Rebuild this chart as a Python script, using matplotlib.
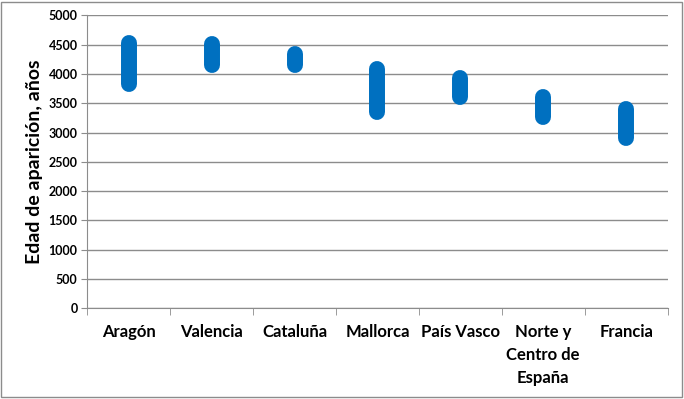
import numpy as np
import matplotlib.pyplot as plt
from matplotlib.patches import Rectangle

plt.rcParams['font.family'] = ['Lato', 'DejaVu Sans']

# categories and age ranges (years)
regiones = ['Aragón', 'Valencia', 'Cataluña', 'Mallorca', 'País Vasco',
            'Norte y\nCentro de\nEspaña', 'Francia']
edad_max = [4530, 4510, 4340, 4080, 3930, 3600, 3410]
edad_min = [3835, 4160, 4160, 3345, 3600, 3275, 2905]

fig = plt.figure(figsize=(6.84, 3.99), dpi=100)
ax = fig.add_axes([0.1277, 0.2273, 0.976 - 0.1277, 0.9612 - 0.2273])

x = np.arange(len(regiones))
for xi, lo, hi in zip(x, edad_min, edad_max):
    ax.plot([xi, xi], [lo, hi], color='#0070C0', lw=11.5,
            solid_capstyle='round', zorder=3)

ax.set_xlim(-0.5, len(regiones) - 0.5)
ax.set_ylim(0, 5000)
ax.set_yticks(np.arange(0, 5001, 500))
ax.yaxis.grid(True, color='#8c8c8c', lw=1)
ax.set_axisbelow(True)

ax.set_xticks(x)
ax.set_xticklabels(regiones, fontsize=12, fontweight='bold', linespacing=1.55,
                   va='top')
ax.tick_params(axis='x', length=0, pad=11)
ax.set_xticks(np.arange(-0.5, len(regiones)), minor=True)
ax.tick_params(axis='x', which='minor', length=5, color='#8c8c8c', direction='out')
ax.tick_params(axis='y', length=4, color='#8c8c8c', labelsize=9, pad=3)
for lab in ax.get_yticklabels():
    lab.set_fontweight('bold')

for s in ['top', 'right']:
    ax.spines[s].set_visible(False)
for s in ['left', 'bottom']:
    ax.spines[s].set_color('#8c8c8c')

ax.set_ylabel('Edad de aparición, años', fontsize=14, fontweight='bold', labelpad=4)

fig.patches.append(Rectangle((0.002, 0.004), 0.995, 0.992, transform=fig.transFigure,
                             fill=False, edgecolor='#8c8c8c', lw=1))

fig.savefig('out.png', dpi=100)
